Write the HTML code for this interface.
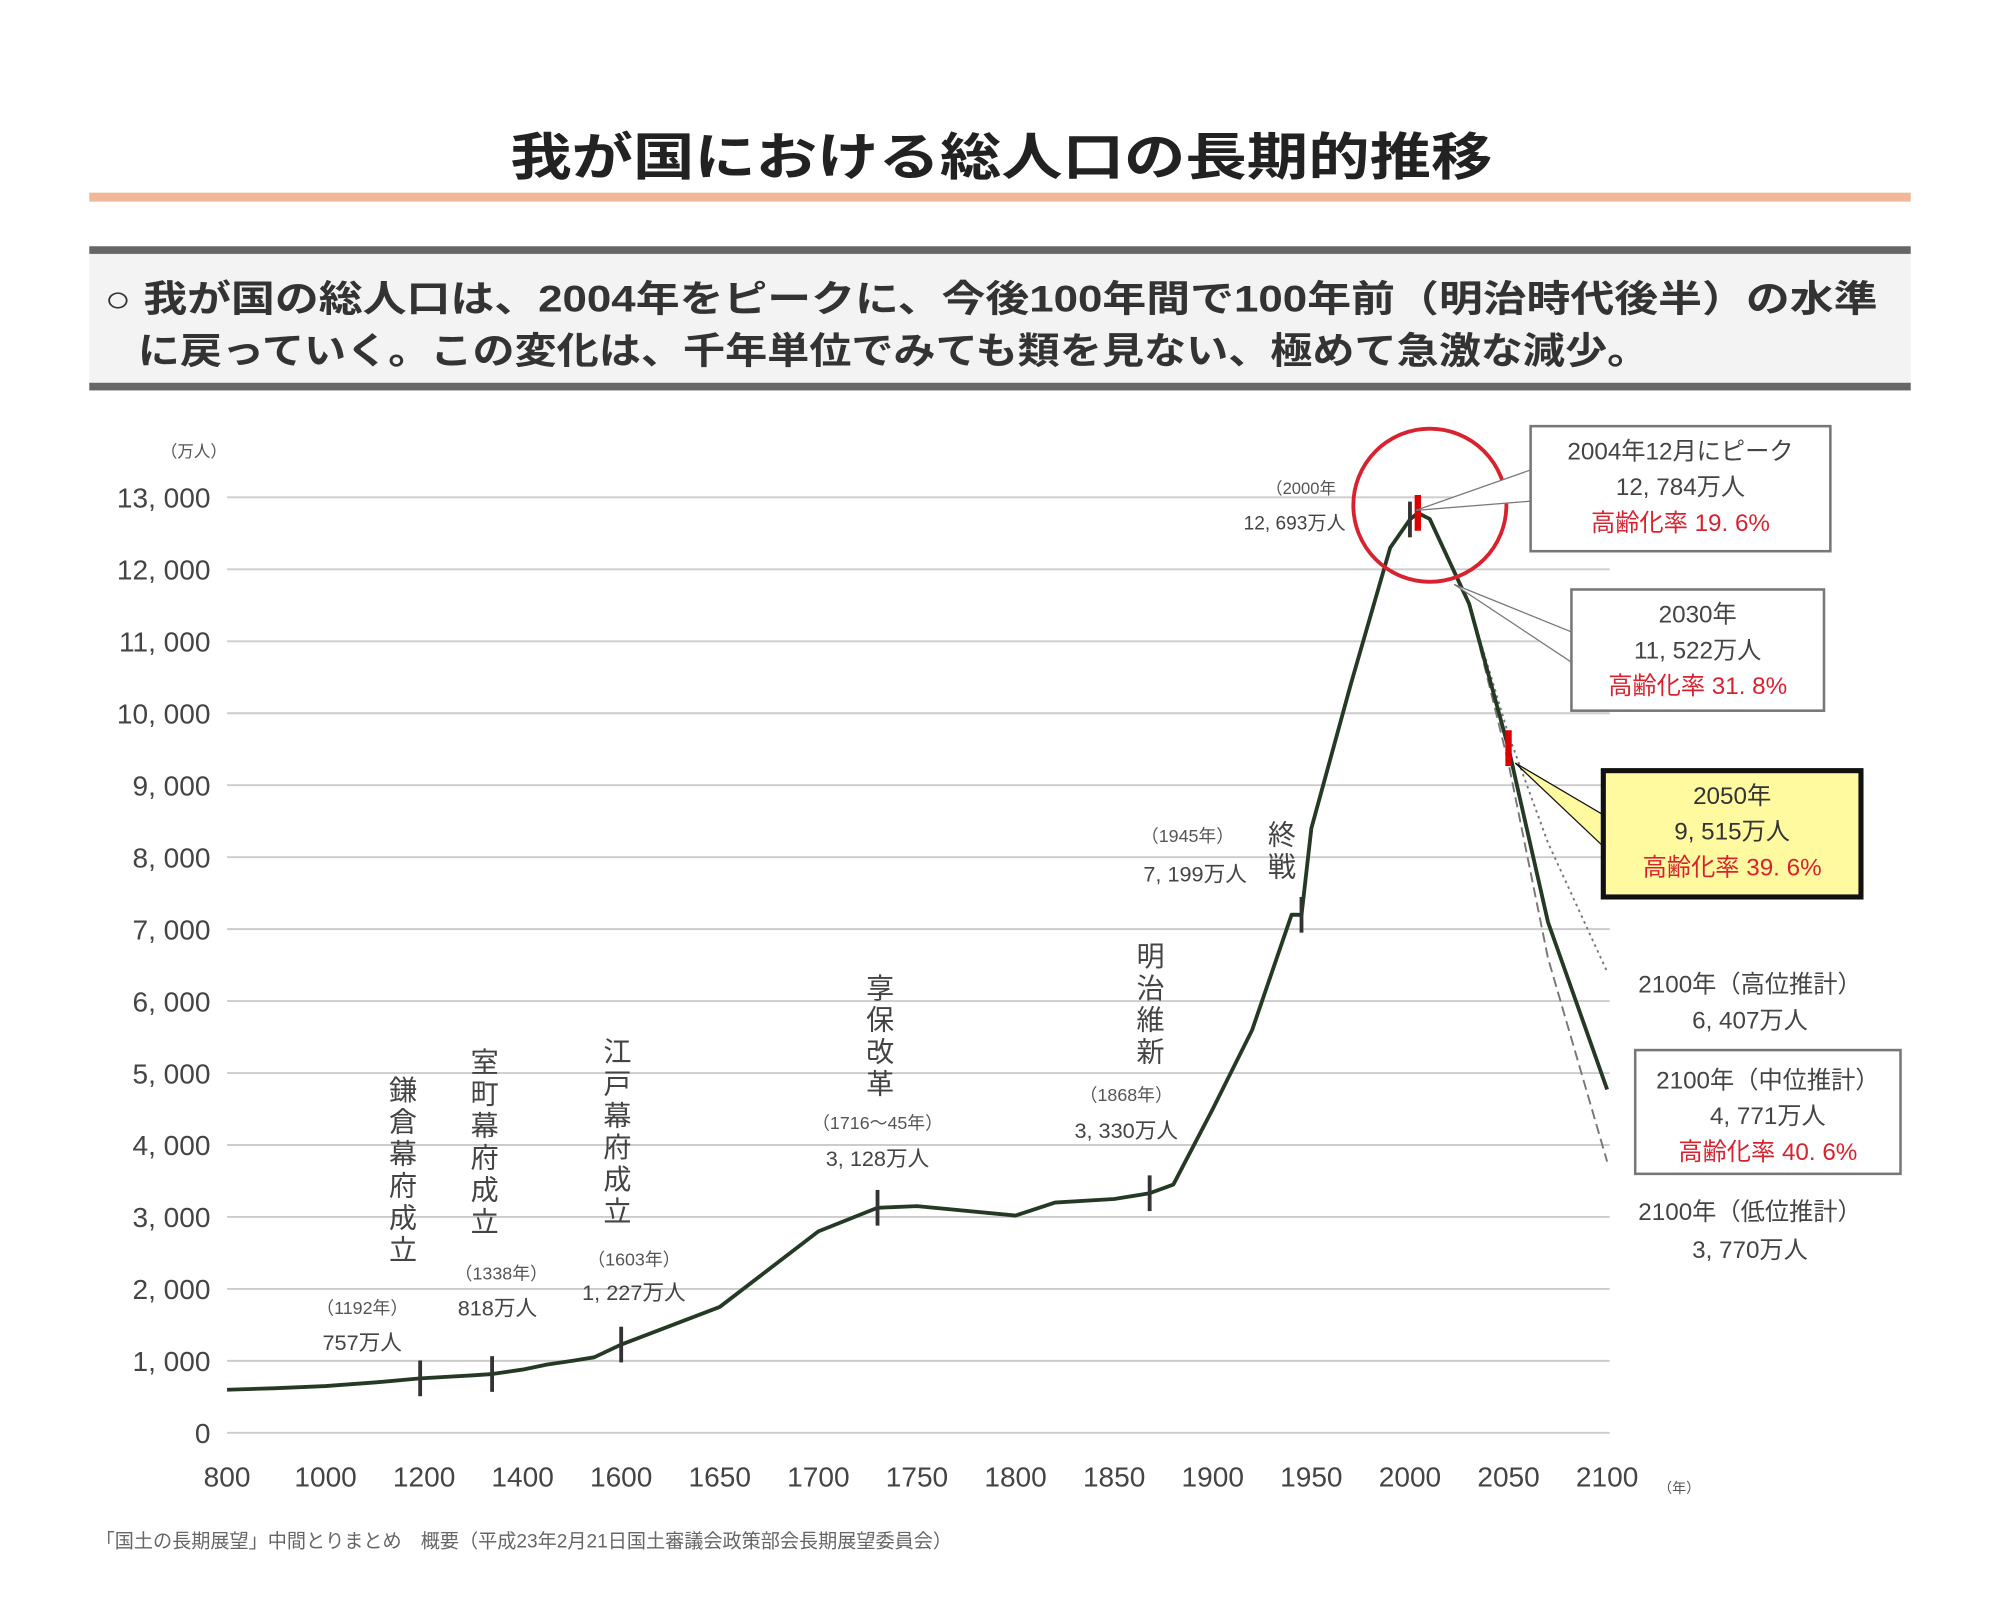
<!DOCTYPE html>
<html><head><meta charset="utf-8"><style>
html,body{margin:0;padding:0;background:#fff;}
svg{display:block;font-family:"Liberation Sans","Noto Sans CJK JP",sans-serif;}
</style></head><body>
<svg id="chart" width="2000" height="1600" viewBox="0 0 1568 1254" preserveAspectRatio="none" xmlns="http://www.w3.org/2000/svg">
<rect width="1568" height="1254" fill="#fff"/>
<text x="785" y="137" text-anchor="middle" font-size="40" font-weight="bold" fill="#222" textLength="770" lengthAdjust="spacingAndGlyphs">我が国における総人口の長期的推移</text>
<rect x="70" y="151" width="1428" height="7" fill="#f0b896"/>
<g>
<rect x="70" y="196" width="1428" height="108" fill="#f3f3f3"/>
<rect x="70" y="193" width="1428" height="6" fill="#666"/>
<rect x="70" y="300" width="1428" height="6" fill="#666"/>
<text x="82" y="244" font-size="29" font-weight="bold" fill="#333" textLength="1390" lengthAdjust="spacingAndGlyphs">○ 我が国の総人口は、2004年をピークに、今後100年間で100年前（明治時代後半）の水準</text>
<text x="108" y="285" font-size="29" font-weight="bold" fill="#333" textLength="1185" lengthAdjust="spacingAndGlyphs">に戻っていく。この変化は、千年単位でみても類を見ない、極めて急激な減少。</text>
</g>
<g id="grid"></g><g id="axes"></g><g id="series"></g><g id="ann"></g>
<text x="152" y="358" font-size="13" text-anchor="middle" fill="#555">（万人）</text>
<text x="1300" y="1170" font-size="11" fill="#555">（年）</text>
<text x="75" y="1213" font-size="15" fill="#666">「国土の長期展望」中間とりまとめ　概要（平成23年2月21日国土審議会政策部会長期展望委員会）</text>
</svg>
<script>
const years=[800,900,1000,1100,1192,1300,1338,1400,1450,1500,1545,1600,1650,1700,1730,1750,1800,1820,1850,1868,1880,1900,1920,1940,1945,1950,1970,1990,2000,2004,2010,2030,2050,2070,2100];
const pop=[600,620,650,700,757,800,818,880,950,1000,1050,1227,1750,2800,3128,3150,3020,3200,3250,3330,3450,4500,5600,7200,7199,8400,10400,12300,12693,12784,12700,11522,9515,7100,4771];
const highYears=[2030,2050,2070,2100];
const highPop=[11522,9700,8200,6407];
const lowYears=[2030,2050,2070,2100];
const lowPop=[11522,9300,6600,3770];
const yTicks=[0,1000,2000,3000,4000,5000,6000,7000,8000,9000,10000,11000,12000,13000];
const yTickLabels=["0","1, 000","2, 000","3, 000","4, 000","5, 000","6, 000","7, 000","8, 000","9, 000","10, 000","11, 000","12, 000","13, 000"];
const xTicks=[800,1000,1200,1400,1600,1650,1700,1750,1800,1850,1900,1950,2000,2050,2100];
function X(yr){return yr<=1600?178+(yr-800)/200*77.25:487+(yr-1600)/50*77.3;}
function Y(v){return 1123-v/1000*56.4;}
const NS="http://www.w3.org/2000/svg";
function mk(tag,attrs,parent,txt){const e=document.createElementNS(NS,tag);for(const k in attrs)e.setAttribute(k,attrs[k]);if(txt!==undefined)e.textContent=txt;parent.appendChild(e);return e;}
const grid=document.getElementById('grid'),axes=document.getElementById('axes'),ser=document.getElementById('series'),ann=document.getElementById('ann');
yTicks.forEach((v,i)=>{
 const l=mk('line',{x1:178,x2:1262,y1:Y(v),y2:Y(v),stroke:'#ccc','stroke-width':1.5},grid);
 
 
 const t=mk('text',{x:165,y:Y(v)+8,'text-anchor':'end','font-size':22,fill:'#444'},axes,yTickLabels[i]);
 
 
});
xTicks.forEach(v=>{
 const t=mk('text',{x:X(v),y:1165,'text-anchor':'middle','font-size':22,fill:'#444'},axes,String(v));
 
 
});
function pts(xs,ys){return xs.map((x,i)=>X(x).toFixed(1)+','+Y(ys[i]).toFixed(1)).join(' ');}
const hi=mk('polyline',{points:pts(highYears,highPop),fill:'none',stroke:'#777','stroke-width':1.5,'stroke-dasharray':'2,3'},ser);


const lo=mk('polyline',{points:pts(lowYears,lowPop),fill:'none',stroke:'#777','stroke-width':1.5,'stroke-dasharray':'8,4'},ser);


const main=mk('polyline',{points:pts(years,pop),fill:'none',stroke:'#243a24','stroke-width':3,'stroke-linejoin':'round'},ser);


const marks=[[1192,'#333'],[1338,'#333'],[1600,'#333'],[1730,'#333'],[1868,'#333'],[1945,'#333'],[2000,'#333'],[2004,'#d00'],[2050,'#d00']];
marks.forEach(m=>{
 const i=years.indexOf(m[0]);const v=i>=0?pop[i]:3128;
 const l=mk('line',{x1:X(m[0]),x2:X(m[0]),y1:Y(v)-14,y2:Y(v)+14,stroke:m[1],'stroke-width':m[1]=='#d00'?5:3},ser);
 
 
});
function txt(x,y,s,size,fill,name,anchor){const t=mk('text',{x:x,y:y,'font-size':size,fill:fill||'#444','text-anchor':anchor||'middle'},ann,s);return t;}
function vtxt(x,y0,s,name){[...s].forEach((c,i)=>{const t=txt(x,y0+i*25,c,22,'#444',name);});}
vtxt(316,862,'鎌倉幕府成立','kamakura-label');txt(284,1030,'（1192年）',14,'#555','kamakura-year');txt(284,1058,'757万人',17,'#444','kamakura-value');
vtxt(380,840,'室町幕府成立','muromachi-label');txt(393,1003,'（1338年）',14,'#555','muromachi-year');txt(390,1031,'818万人',17,'#444','muromachi-value');
vtxt(484,832,'江戸幕府成立','edo-label');txt(497,992,'（1603年）',14,'#555','edo-year');txt(497,1019,'1, 227万人',17,'#444','edo-value');
vtxt(690,782,'享保改革','kyoho-label');txt(688,885,'（1716〜45年）',14,'#555','kyoho-year');txt(688,914,'3, 128万人',17,'#444','kyoho-value');
vtxt(902,757,'明治維新','meiji-label');txt(883,863,'（1868年）',14,'#555','meiji-year');txt(883,892,'3, 330万人',17,'#444','meiji-value');
vtxt(1005,662,'終戦','war-end-label');txt(931,660,'（1945年）',14,'#555','war-end-year');txt(937,691,'7, 199万人',17,'#444','war-end-value');
txt(1020,387,'（2000年',13,'#555','y2000-year');txt(1015,415,'12, 693万人',15,'#444','y2000-value');
const c=mk('circle',{cx:1121,cy:396,r:60,fill:'none',stroke:'#d8232f','stroke-width':3},ann);


function callout(x,y,w,h,fill,stroke,sw,lines,name,px,py){
 const p=mk('polygon',{points:`${px},${py} ${x},${y+h*0.35} ${x},${y+h*0.6}`,fill:fill,stroke:stroke,'stroke-width':1},ann);
 
 
 const r=mk('rect',{x:x,y:y,width:w,height:h,fill:fill,stroke:stroke,'stroke-width':sw},ann);
 
 
 lines.forEach((l,i)=>txt(x+w/2,y+26+i*28,l[0],19,l[1],name+'-text'));
}
callout(1200,334,235,98,'#fff','#777',2,[['2004年12月にピーク','#444'],['12, 784万人','#444'],['高齢化率 19. 6%','#d8232f']],'peak-callout',1110,400);
callout(1232,462,198,95,'#fff','#777',2,[['2030年','#444'],['11, 522万人','#444'],['高齢化率 31. 8%','#d8232f']],'y2030-callout',1140,458);
callout(1257,604,202,99,'#fff9a0','#111',4,[['2050年','#333'],['9, 515万人','#333'],['高齢化率 39. 6%','#d8232f']],'y2050-callout',1188,598);
const mb=mk('rect',{x:1282,y:823,width:208,height:97,fill:'#fff',stroke:'#777','stroke-width':2},ann);


txt(1386,853,'2100年（中位推計）',19,'#444','y2100-mid-label');txt(1386,881,'4, 771万人',19,'#444','y2100-mid-value');txt(1386,909,'高齢化率 40. 6%',19,'#d8232f','y2100-mid-rate');
txt(1372,778,'2100年（高位推計）',19,'#444','y2100-high-label');txt(1372,806,'6, 407万人',19,'#444','y2100-high-value');
txt(1372,956,'2100年（低位推計）',19,'#444','y2100-low-label');txt(1372,986,'3, 770万人',19,'#444','y2100-low-value');
</script>
</body></html>
